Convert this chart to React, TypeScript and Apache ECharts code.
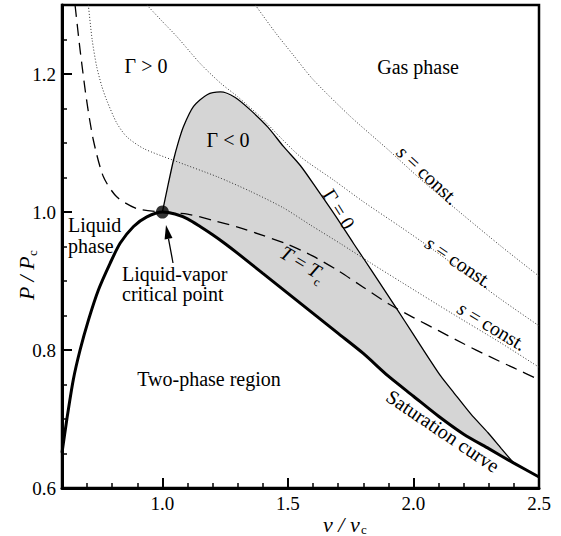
import React, { useEffect, useRef } from 'react';
import * as echarts from 'echarts';

// ---------- data (v/vc, P/Pc) ----------
const saturationLeft = [
  [0.6, 0.651], [0.619, 0.699], [0.645, 0.757], [0.672, 0.8], [0.705, 0.843],
  [0.745, 0.887], [0.792, 0.926], [0.832, 0.955], [0.885, 0.979], [0.938, 0.993], [1.0, 1.0],
];
const saturationRight = [
  [1.0, 1.0], [1.05, 0.997], [1.1, 0.99], [1.15, 0.979], [1.2, 0.967], [1.25, 0.954],
  [1.3, 0.94], [1.4, 0.911], [1.5, 0.882], [1.6, 0.853], [1.7, 0.824], [1.8, 0.795],
  [1.9, 0.762], [2.0, 0.733], [2.1, 0.704], [2.2, 0.678], [2.3, 0.657], [2.4, 0.636], [2.5, 0.616],
];
const gammaZero = [
  [1.0, 1.0], [1.02, 1.035], [1.044, 1.075], [1.064, 1.102], [1.084, 1.124], [1.124, 1.153],
  [1.178, 1.17], [1.231, 1.174], [1.29, 1.166], [1.35, 1.148], [1.42, 1.123], [1.482, 1.095],
  [1.55, 1.067], [1.618, 1.032], [1.69, 0.994], [1.762, 0.954], [1.83, 0.917], [1.897, 0.88],
  [1.965, 0.842], [2.029, 0.806], [2.109, 0.762], [2.161, 0.738], [2.229, 0.707], [2.297, 0.68],
  [2.35, 0.657], [2.4, 0.636],
];
const criticalIsotherm = [
  [0.652, 1.3], [0.672, 1.235], [0.698, 1.162], [0.725, 1.104], [0.765, 1.051], [0.818, 1.022],
  [0.898, 1.005], [1.0, 1.0], [1.1, 0.997], [1.2, 0.988], [1.3, 0.978], [1.4, 0.966],
  [1.5, 0.953], [1.6, 0.936], [1.7, 0.915], [1.8, 0.891], [1.9, 0.867], [2.0, 0.847],
  [2.1, 0.828], [2.2, 0.809], [2.3, 0.791], [2.4, 0.774], [2.5, 0.757],
];
const isentropeLow = [
  [0.705, 1.3], [0.72, 1.25], [0.738, 1.211], [0.758, 1.183], [0.778, 1.162], [0.818, 1.129],
  [0.858, 1.109], [0.925, 1.092], [1.043, 1.075], [1.219, 1.051], [1.35, 1.03], [1.482, 1.006],
  [1.59, 0.981], [1.71, 0.954], [1.83, 0.926], [1.949, 0.899], [2.149, 0.854], [2.349, 0.81],
  [2.5, 0.775],
];
const isentropeMid = [
  [0.938, 1.3], [1.0, 1.276], [1.058, 1.254], [1.151, 1.215], [1.231, 1.187], [1.3, 1.167],
  [1.39, 1.138], [1.47, 1.108], [1.55, 1.08], [1.683, 1.046], [1.8, 1.015], [1.95, 0.978],
  [2.08, 0.945], [2.2, 0.913], [2.35, 0.873], [2.5, 0.835],
];
const isentropeHigh = [
  [1.37, 1.3], [1.45, 1.26], [1.52, 1.228], [1.6, 1.192], [1.75, 1.138], [1.9, 1.09],
  [2.03, 1.047], [2.2, 0.995], [2.35, 0.95], [2.5, 0.907],
];
const criticalPoint = [[1.0, 1.0]];

const xMajorTicks = [1.0, 1.5, 2.0, 2.5];
const xMinorTicks = [0.7, 0.8, 0.9, 1.1, 1.2, 1.3, 1.4, 1.6, 1.7, 1.8, 1.9, 2.1, 2.2, 2.3, 2.4];
const yMajorTicks = [0.6, 0.8, 1.0, 1.2];
const yMinorTicks = [0.65, 0.7, 0.75, 0.85, 0.9, 0.95, 1.05, 1.1, 1.15, 1.25];

const negativeGammaRegion = [
  ...gammaZero,
  ...saturationRight.filter((p) => p[0] <= 2.4).reverse(),
];

const FONT = 'Liberation Serif';
const FS = 20;

const richStyles = {
  i: { fontStyle: 'italic', fontFamily: FONT, fontSize: FS, lineHeight: 20, verticalAlign: 'middle' },
  s: { fontFamily: FONT, fontSize: 12, lineHeight: 30, verticalAlign: 'bottom' },
};

function label(text: string, x: number, y: number, rotationDeg = 0, extra: any = {}) {
  return {
    type: 'text',
    x,
    y,
    rotation: (rotationDeg * Math.PI) / 180,
    z: 100,
    silent: true,
    style: {
      text,
      fill: '#000',
      fontFamily: FONT,
      fontSize: FS,
      align: 'center',
      verticalAlign: 'middle',
      rich: richStyles,
      ...extra,
    },
  };
}

export default function App() {
  const ref = useRef<HTMLDivElement>(null);

  useEffect(() => {
    if (!ref.current) return;
    const chart = echarts.init(ref.current, null, { renderer: 'svg' });

    const gridRect = { left: 62, right: 22, top: 5, bottom: 48 };
    const fmt = (v: number) => v.toFixed(1);

    const lineSeries = (data: number[][], lineStyle: any, z: number) => ({
      type: 'line',
      xAxisIndex: 0,
      yAxisIndex: 0,
      data,
      showSymbol: false,
      symbol: 'none',
      smooth: 0.25,
      clip: true,
      silent: true,
      z,
      lineStyle: { color: '#000', ...lineStyle },
    });

    const tip = [166, 225];
    const tail = [173, 263];
    const dx = tip[0] - tail[0];
    const dy = tip[1] - tail[1];
    const len = Math.hypot(dx, dy);
    const ux = dx / len;
    const uy = dy / len;
    const headLen = 14;
    const headHalf = 4;
    const bx = tip[0] - ux * headLen;
    const by = tip[1] - uy * headLen;
    const px = -uy;
    const py = ux;

    chart.setOption({
      animation: false,
      backgroundColor: '#fff',
      textStyle: { fontFamily: FONT },
      grid: [
        { ...gridRect, show: true, borderColor: '#000', borderWidth: 2.5, backgroundColor: 'transparent' },
        { ...gridRect, show: false },
      ],
      xAxis: [
        {
          type: 'value', gridIndex: 0, min: 0.6, max: 2.5, position: 'bottom',
          axisLine: { show: true, lineStyle: { color: '#000', width: 3 } },
          axisTick: { show: true, inside: true, length: 10, customValues: xMajorTicks, lineStyle: { color: '#000', width: 2 } },
          axisLabel: { show: true, customValues: xMajorTicks, formatter: fmt, color: '#000', fontFamily: FONT, fontSize: 19, margin: 6 },
          splitLine: { show: false },
        },
        {
          type: 'value', gridIndex: 1, min: 0.6, max: 2.5, position: 'bottom',
          axisLine: { show: false },
          axisTick: { show: true, inside: true, length: 5, customValues: xMinorTicks, lineStyle: { color: '#000', width: 1.5 } },
          axisLabel: { show: false },
          splitLine: { show: false },
        },
      ],
      yAxis: [
        {
          type: 'value', gridIndex: 0, min: 0.6, max: 1.3, position: 'left',
          axisLine: { show: true, lineStyle: { color: '#000', width: 3 } },
          axisTick: { show: true, inside: true, length: 10, customValues: yMajorTicks, lineStyle: { color: '#000', width: 2 } },
          axisLabel: { show: true, customValues: yMajorTicks, formatter: fmt, color: '#000', fontFamily: FONT, fontSize: 19, margin: 6 },
          splitLine: { show: false },
        },
        {
          type: 'value', gridIndex: 1, min: 0.6, max: 1.3, position: 'left',
          axisLine: { show: false },
          axisTick: { show: true, inside: true, length: 5, customValues: yMinorTicks, lineStyle: { color: '#000', width: 1.5 } },
          axisLabel: { show: false },
          splitLine: { show: false },
        },
      ],
      series: [
        {
          type: 'custom',
          xAxisIndex: 0,
          yAxisIndex: 0,
          data: negativeGammaRegion,
          silent: true,
          z: 1,
          clip: true,
          renderItem: (params: any, api: any) => {
            if (params.dataIndex !== 0) return null;
            const points = negativeGammaRegion.map((p) => api.coord(p));
            return {
              type: 'polygon',
              shape: { points, smooth: 0 },
              style: { fill: '#d5d5d5', stroke: 'none' },
            };
          },
        },
        lineSeries(isentropeLow, { width: 1, type: [1, 2], color: '#333' }, 3),
        lineSeries(isentropeMid, { width: 1, type: [1, 2], color: '#333' }, 3),
        lineSeries(isentropeHigh, { width: 1, type: [1, 2], color: '#333' }, 3),
        lineSeries(criticalIsotherm, { width: 1.3, type: [12, 7] }, 4),
        lineSeries(gammaZero, { width: 1.3 }, 5),
        lineSeries([...saturationLeft, ...saturationRight.slice(1)], { width: 3 }, 6),
        {
          type: 'scatter',
          xAxisIndex: 0,
          yAxisIndex: 0,
          data: criticalPoint,
          symbol: 'circle',
          symbolSize: 13,
          itemStyle: { color: '#000' },
          silent: true,
          z: 10,
        },
      ],
      graphic: [
        label('Γ > 0', 146, 66),
        label('Γ < 0', 228, 140),
        label('Gas phase', 418, 67),
        label('Liquid\nphase', 68, 214, 0, { align: 'left', verticalAlign: 'top', lineHeight: 21 }),
        label('Liquid-vapor\ncritical point', 122, 264, 0, { align: 'left', verticalAlign: 'top', lineHeight: 20 }),
        label('Two-phase region', 209, 379),
        label('Γ = 0', 339, 209, -58),
        label('{i|T} = {i|T}{s|c}', 303, 263, -31),
        label('{i|s} = const.', 428, 175, -43),
        label('{i|s} = const.', 459, 262, -34),
        label('{i|s} = const.', 492, 326, -31),
        label('Saturation curve', 443, 431, -34),
        // x-axis title v / v_c
        label('v / v', 323, 524, 0, { align: 'left', fontStyle: 'italic', fontSize: 22 }),
        label('c', 361, 529, 0, { align: 'left', fontSize: 13 }),
        // y-axis title P / P_c (rotated)
        label('P / P', 26, 300, 90, { align: 'left', fontStyle: 'italic', fontSize: 22 }),
        label('c', 32, 256, 90, { align: 'left', fontSize: 13 }),
        {
          type: 'line',
          z: 100,
          silent: true,
          shape: { x1: tail[0], y1: tail[1], x2: bx, y2: by },
          style: { stroke: '#000', lineWidth: 1.3 },
        },
        {
          type: 'polygon',
          z: 100,
          silent: true,
          shape: {
            points: [
              [tip[0], tip[1]],
              [bx + px * headHalf, by + py * headHalf],
              [bx - px * headHalf, by - py * headHalf],
            ],
          },
          style: { fill: '#000' },
        },
      ],
    });

    return () => chart.dispose();
  }, []);

  return (
    <div
      ref={ref}
      style={{ position: 'absolute', left: 0, top: 0, width: 561, height: 536, overflow: 'hidden' }}
    />
  );
}
